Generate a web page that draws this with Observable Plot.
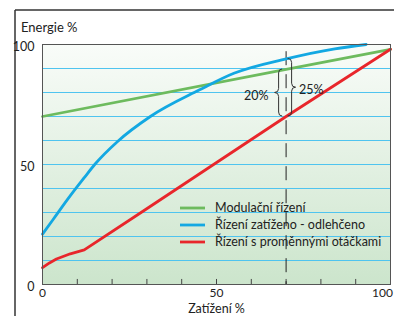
<!DOCTYPE html>
<html>
<head>
<meta charset="utf-8">
<script src="https://cdn.jsdelivr.net/npm/d3@7"></script>
<script src="https://cdn.jsdelivr.net/npm/@observablehq/plot@0.6"></script>
<style>
  html, body { margin: 0; padding: 0; background: #fff; }
  #chart { width: 394px; height: 316px; overflow: hidden; }
</style>
</head>
<body>
<div id="chart"></div>
<script>
// ---- data ----
const greenX = [0, 70, 100];
const greenY = [70, 89.6, 98];

const blueX = [0, 3, 8, 12, 15, 21.5, 31, 45, 55, 70, 84, 93];
const blueY = [21, 27, 37, 44.5, 50, 59.5, 70, 81, 88, 94, 98.2, 100];

const redX = [0, 2, 4, 8, 12, 28, 70, 100];
const redY = [7, 9, 10.6, 12.8, 14.4, 29.7, 70, 98];

const seriesNames = ["Modulační řízení", "Řízení zatíženo - odlehčeno", "Řízení s proměnnými otáčkami"];
const seriesColors = ["#6dbb5e", "#13a8e2", "#e8262b"];

const xTickLabels = [0, 50];
const xTickLabelEnd = [100];
const yTickLabels = [0, 50, 100];
const minorXTicks = [10, 20, 30, 40, 50, 60, 70, 80, 90];
const gridY = [10, 20, 30, 40, 50, 60, 70, 80, 90];

const markerX = 70;
const markerTop = 97;
const annotLeft = "20%";
const annotRight = "25%";

const titleText = "Energie %";
const xLabelText = "Zatížení %";

// ---- build tables ----
const toRows = (xs, ys, s) => xs.map((x, i) => ({x, y: ys[i], s}));
const greenRows = toRows(greenX, greenY, seriesNames[0]);
const blueRows = toRows(blueX, blueY, seriesNames[1]);
const redRows = toRows(redX, redY, seriesNames[2]);
const atMarker = (xs, ys) => ys[xs.indexOf(markerX)];
const gM = atMarker(greenX, greenY), bM = atMarker(blueX, blueY), rM = atMarker(redX, redY);

// background gradient + outer frame
function background(index, scales, values, dim) {
  const g = d3.create("svg:g");
  const grad = g.append("defs").append("linearGradient")
    .attr("id", "bgGrad").attr("x1", 0).attr("y1", 0).attr("x2", 0).attr("y2", 1);
  grad.append("stop").attr("offset", "0%").attr("stop-color", "#f9fcf9");
  grad.append("stop").attr("offset", "100%").attr("stop-color", "#cce5cc");
  g.append("rect")
    .attr("x", dim.marginLeft).attr("y", dim.marginTop)
    .attr("width", dim.width - dim.marginLeft - dim.marginRight)
    .attr("height", dim.height - dim.marginTop - dim.marginBottom)
    .attr("fill", "url(#bgGrad)");
  g.append("line").attr("x1", 15).attr("x2", dim.width).attr("y1", 10).attr("y2", 10)
    .attr("stroke", "#333").attr("stroke-width", 1.5);
  g.append("line").attr("x1", 15).attr("x2", 15).attr("y1", 10).attr("y2", dim.height)
    .attr("stroke", "#333").attr("stroke-width", 1.5);
  return g.node();
}

// braces annotation
function braces(index, scales) {
  const g = d3.create("svg:g").attr("fill", "none").attr("stroke", "#333").attr("stroke-width", 1);
  const X = scales.x(markerX);
  function brace(s, y0, y1, dir, tip, end, r) {
    const ym = (y0 + y1) / 2;
    return `M${s - dir * end},${y0} Q${s},${y0} ${s},${y0 + r} L${s},${ym - r} ` +
      `Q${s},${ym} ${s + dir * tip},${ym} Q${s},${ym} ${s},${ym + r} L${s},${y1 - r} ` +
      `Q${s},${y1} ${s - dir * end},${y1}`;
  }
  const yg = scales.y(gM), yb = scales.y(bM), yr = scales.y(rM);
  g.append("path").attr("d", brace(X - 7, yg, yr, -1, 4, 3.5, 4));
  g.append("path").attr("d", brace(X + 6, yb, yr, 1, 4, 4, 4));
  const t = g.append("g").attr("stroke", "none").attr("fill", "#222")
    .attr("font-family", "Lato, sans-serif").attr("font-size", 12.5);
  t.append("text").attr("x", X - 17).attr("y", (yg + yr) / 2 + 3).attr("dy", "0.35em")
    .attr("text-anchor", "end").text(annotLeft);
  t.append("text").attr("x", X + 13.5).attr("y", (yb + yr) / 2 + 2).attr("dy", "0.35em")
    .attr("text-anchor", "start").text(annotRight);
  return g.node();
}

// legend inside plot
function legend(index, scales, values, dim) {
  const g = d3.create("svg:g");
  const x0 = dim.marginLeft + 138, y0 = dim.height - dim.marginBottom - 76, step = 17;
  seriesNames.forEach((name, i) => {
    const y = y0 + i * step;
    g.append("line").attr("x1", x0).attr("x2", x0 + 25).attr("y1", y).attr("y2", y)
      .attr("stroke", seriesColors[i]).attr("stroke-width", 2.8);
    g.append("text").attr("x", x0 + 35).attr("y", y).attr("dy", "0.35em")
      .attr("text-anchor", "start")
      .attr("fill", "#222").attr("font-family", "Lato, sans-serif").attr("font-size", 12.5)
      .text(name);
  });
  return g.node();
}

const chart = Plot.plot({
  width: 394,
  height: 316,
  marginLeft: 42,
  marginRight: 4,
  marginTop: 44,
  marginBottom: 32,
  x: {domain: [0, 100]},
  y: {domain: [0, 100]},
  style: {fontFamily: "Lato, sans-serif", color: "#222", background: "transparent", overflow: "visible"},
  marks: [
    background,
    Plot.ruleY(gridY, {stroke: "#4fc4ef", strokeWidth: 1}),
    Plot.ruleX(minorXTicks, {y1: 0, y2: 2.1, stroke: "#444"}),
    Plot.ruleX([markerX], {y1: markerTop, y2: 0, stroke: "#222", strokeWidth: 1, strokeDasharray: "14,9"}),
    Plot.line(greenRows, {x: "x", y: "y", stroke: seriesColors[0], strokeWidth: 2.8}),
    Plot.line(blueRows, {x: "x", y: "y", stroke: seriesColors[1], strokeWidth: 2.8, curve: "monotone-x"}),
    Plot.line(redRows, {x: "x", y: "y", stroke: seriesColors[2], strokeWidth: 2.8}),
    Plot.frame({stroke: "#555", strokeWidth: 1}),
    braces,
    legend,
    Plot.axisY(yTickLabels, {tickSize: 0, tickPadding: 8, fontSize: 12.5, dy: 2, label: null}),
    Plot.axisX(xTickLabels, {tickSize: 0, tickPadding: 4, fontSize: 12, label: null}),
    Plot.axisX(xTickLabelEnd, {tickSize: 0, tickPadding: 4, fontSize: 12, dx: -8, label: null}),
    Plot.text([titleText], {frameAnchor: "top-left", textAnchor: "start", lineAnchor: "middle", dx: -21.5, dy: -17, fontSize: 13, fill: "#222"}),
    Plot.text([xLabelText], {frameAnchor: "bottom", lineAnchor: "bottom", dy: 28.5, fontSize: 12.5, fill: "#222"})
  ]
});
document.getElementById("chart").appendChild(chart);
</script>
</body>
</html>
